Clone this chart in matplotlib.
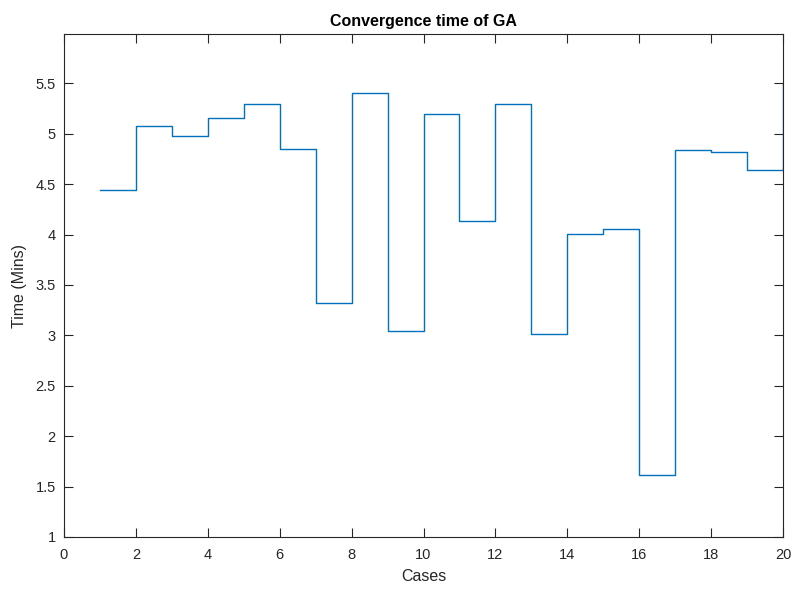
import matplotlib
matplotlib.use("Agg")
import matplotlib.pyplot as plt

cases = list(range(1, 21))
times = [4.44, 5.08, 4.98, 5.16, 5.30, 4.85, 3.32, 5.40, 3.04, 5.20,
         4.13, 5.30, 3.01, 4.01, 4.06, 1.62, 4.84, 4.82, 4.64, 5.49]
xticks = list(range(0, 21, 2))
yticks = [1, 1.5, 2, 2.5, 3, 3.5, 4, 4.5, 5, 5.5]
ytick_labels = ['1', '1.5', '2', '2.5', '3', '3.5', '4', '4.5', '5', '5.5']

plt.rcParams['font.family'] = ['Liberation Sans', 'DejaVu Sans']
fig = plt.figure(figsize=(7.93, 5.90), dpi=100)
ax = fig.add_axes([64/793, 53/590, 719/793, 503/590])

ax.step(cases, times, where='post', color='#0072BD', lw=1.0)

ax.set_xlim(0, 20)
ax.set_ylim(1, 5.99)
ax.set_xticks(xticks)
ax.set_xticklabels([str(t) for t in xticks])
ax.set_yticks(yticks)
ax.set_yticklabels(ytick_labels)

axc = '#262626'
for s in ax.spines.values():
    s.set_color(axc)
    s.set_linewidth(0.8)
ax.tick_params(direction='in', length=6.5, width=0.8, colors=axc, labelsize=10.5,
               top=True, right=True, labelcolor=axc)
ax.tick_params(axis='x', pad=8)
ax.tick_params(axis='y', pad=6)

ax.set_xlabel('Cases', fontsize=11.5, color=axc, labelpad=5)
ax.set_ylabel('Time (Mins)', fontsize=11.5, color=axc, labelpad=6)
ax.set_title('Convergence time of GA', fontsize=11.5, fontweight='bold', color='black', pad=6)

fig.savefig('out.png', dpi=100)
